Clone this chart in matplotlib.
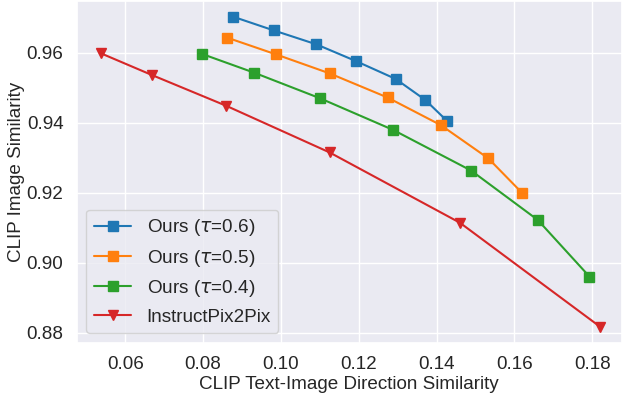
import matplotlib
matplotlib.use("Agg")
import matplotlib.pyplot as plt
import seaborn as sns

sns.set_theme(style="darkgrid")
plt.rcParams['font.family'] = ['Liberation Sans', 'DejaVu Sans']

labels = ["Ours ($\\tau$=0.6)", "Ours ($\\tau$=0.5)", "Ours ($\\tau$=0.4)", "InstructPix2Pix"]

x_t06 = [0.0877, 0.0981, 0.1091, 0.1193, 0.1295, 0.1371, 0.1427]
y_t06 = [0.9703, 0.9664, 0.9624, 0.9576, 0.9525, 0.9465, 0.9405]

x_t05 = [0.0862, 0.0988, 0.1125, 0.1274, 0.1411, 0.1533, 0.1620]
y_t05 = [0.9643, 0.9595, 0.9541, 0.9472, 0.9393, 0.9298, 0.9199]

x_t04 = [0.0796, 0.0931, 0.1100, 0.1289, 0.1489, 0.1660, 0.1793]
y_t04 = [0.9597, 0.9543, 0.9470, 0.9379, 0.9263, 0.9122, 0.8960]

x_ip2p = [0.0538, 0.0669, 0.0860, 0.1125, 0.1460, 0.1821]
y_ip2p = [0.9598, 0.9536, 0.9448, 0.9315, 0.9114, 0.8816]

fs = 13.6

fig = plt.figure(figsize=(6.23, 3.96), dpi=100)
ax = fig.add_axes([0.123, 0.1346, 0.875, 0.863])

ax.plot(x_t06, y_t06, marker='s', color='#1f77b4', lw=1.5, ms=6.5, label=labels[0])
ax.plot(x_t05, y_t05, marker='s', color='#ff7f0e', lw=1.5, ms=6.5, label=labels[1])
ax.plot(x_t04, y_t04, marker='s', color='#2ca02c', lw=1.5, ms=6.5, label=labels[2])
ax.plot(x_ip2p, y_ip2p, marker='v', color='#d62728', lw=1.5, ms=7, label=labels[3])

ax.set_xlim(0.0475, 0.1876)
ax.set_ylim(0.8771, 0.9748)
ax.set_xticks([0.06, 0.08, 0.10, 0.12, 0.14, 0.16, 0.18])
ax.set_yticks([0.88, 0.90, 0.92, 0.94, 0.96])
ax.tick_params(labelsize=fs)
ax.set_xlabel("CLIP Text-Image Direction Similarity", fontsize=fs, labelpad=2)
ax.set_ylabel("CLIP Image Similarity", fontsize=fs, labelpad=1)
ax.legend(loc='lower left', fontsize=fs, borderaxespad=0.5)

fig.savefig("out.png", dpi=100)
